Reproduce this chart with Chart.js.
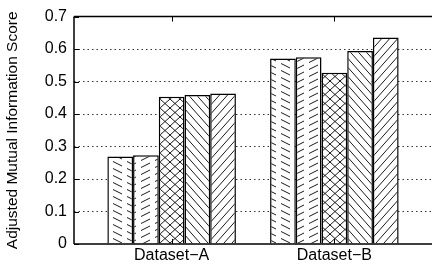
<!DOCTYPE html>
<html>
<head>
<meta charset="utf-8">
<script src="https://cdn.jsdelivr.net/npm/chart.js@4"></script>
<style>
html,body{margin:0;padding:0;background:#fff;}
canvas{display:block;}
</style>
</head>
<body>
<canvas id="c" width="432" height="268"></canvas>
<script>
const categories = ['Dataset\u2212A', 'Dataset\u2212B'];
const seriesNames = ['Method 1', 'Method 2', 'Method 3', 'Method 4', 'Method 5'];
const method1 = [0.269, 0.571];
const method2 = [0.273, 0.575];
const method3 = [0.453, 0.527];
const method4 = [0.459, 0.594];
const method5 = [0.463, 0.636];
const yTicks = [0, 0.1, 0.2, 0.3, 0.4, 0.5, 0.6, 0.7];
const yTitle = 'Adjusted Mutual Information Score';

const seriesValues = [method1, method2, method3, method4, method5];

function makePattern(w, h, segs) {
  const cv = document.createElement('canvas');
  cv.width = w; cv.height = h;
  const g = cv.getContext('2d');
  g.fillStyle = '#fff';
  g.fillRect(0, 0, w, h);
  g.strokeStyle = '#000';
  g.lineWidth = 0.9;
  for (const s of segs) {
    for (let dx = -1; dx <= 1; dx++) {
      for (let dy = -1; dy <= 1; dy++) {
        g.beginPath();
        g.moveTo(s[0] + dx * w, s[1] + dy * h);
        g.lineTo(s[2] + dx * w, s[3] + dy * h);
        g.stroke();
      }
    }
  }
  return g.createPattern(cv, 'repeat');
}

const patterns = [
  makePattern(14, 7, [[1, 0.5, 10, 5]]),
  makePattern(14, 7, [[1, 6.5, 10, 2]]),
  makePattern(10, 9, [[0, 0, 10, 9], [0, 9, 10, 0]]),
  makePattern(8, 9, [[0, 0, 8, 9]]),
  makePattern(8, 9, [[0, 9, 8, 0]])
];

const datasets = seriesValues.map((vals, i) => ({
  label: seriesNames[i],
  data: vals.map((v, j) => ({ x: j, y: v })),
  backgroundColor: patterns[i],
  borderColor: '#000',
  borderWidth: 1.5,
  categoryPercentage: 0.79,
  barPercentage: 1
}));

const frame = {
  id: 'frame',
  afterDraw(chart) {
    const { ctx, chartArea: a } = chart;
    const xs = chart.scales.x, ys = chart.scales.y;
    ctx.save();
    ctx.strokeStyle = '#000';
    ctx.lineWidth = 1.5;
    ctx.beginPath();
    ctx.moveTo(a.left, a.top); ctx.lineTo(a.right + 2, a.top);
    ctx.moveTo(a.left, a.top); ctx.lineTo(a.left, a.bottom);
    ctx.moveTo(a.left, a.bottom); ctx.lineTo(a.right + 2, a.bottom);
    ctx.stroke();
    ctx.lineWidth = 1;
    ctx.beginPath();
    categories.forEach((c, i) => {
      const px = Math.round(xs.getPixelForValue(i)) + 0.5;
      ctx.moveTo(px, a.top); ctx.lineTo(px, a.top + 5);
      ctx.moveTo(px, a.bottom); ctx.lineTo(px, a.bottom - 5);
    });
    yTicks.forEach(v => {
      const py = Math.round(ys.getPixelForValue(v)) + 0.5;
      ctx.moveTo(a.left, py); ctx.lineTo(a.left + 5, py);
    });
    ctx.stroke();
    ctx.restore();
  }
};

new Chart(document.getElementById('c'), {
  type: 'bar',
  data: { datasets },
  options: {
    responsive: false,
    animation: false,
    devicePixelRatio: 1,
    layout: { padding: { top: 16, right: 0, left: 0, bottom: 0 } },
    plugins: { legend: { display: false }, tooltip: { enabled: false } },
    scales: {
      x: {
        type: 'linear',
        offset: false,
        min: -0.6,
        max: 1.6,
        afterBuildTicks: s => { s.ticks = categories.map((c, i) => ({ value: i })); },
        afterFit: s => { s.height = 24; },
        ticks: {
          callback: v => categories[v],
          font: { family: 'Liberation Sans', size: 16 },
          color: '#000',
          padding: 2,
          maxRotation: 0
        },
        grid: { display: false, drawTicks: false },
        border: { display: false }
      },
      y: {
        min: 0,
        max: 0.7,
        z: 1,
        afterBuildTicks: s => { s.ticks = yTicks.map(v => ({ value: v })); },
        afterFit: s => { s.width = 74; },
        ticks: {
          font: { family: 'Liberation Sans', size: 16 },
          color: '#000',
          padding: 7
        },
        grid: {
          drawTicks: false,
          color: c => (c.tick && (c.tick.value === 0 || c.tick.value === 0.7)) ? 'rgba(0,0,0,0)' : '#333',
          lineWidth: 1
        },
        border: { display: false, dash: [1.5, 3] },
        title: {
          display: true,
          text: yTitle,
          font: { family: 'Liberation Sans', size: 15.5 },
          color: '#000',
          padding: { top: 3, bottom: 0 }
        }
      }
    }
  },
  plugins: [frame]
});
</script>
</body>
</html>
